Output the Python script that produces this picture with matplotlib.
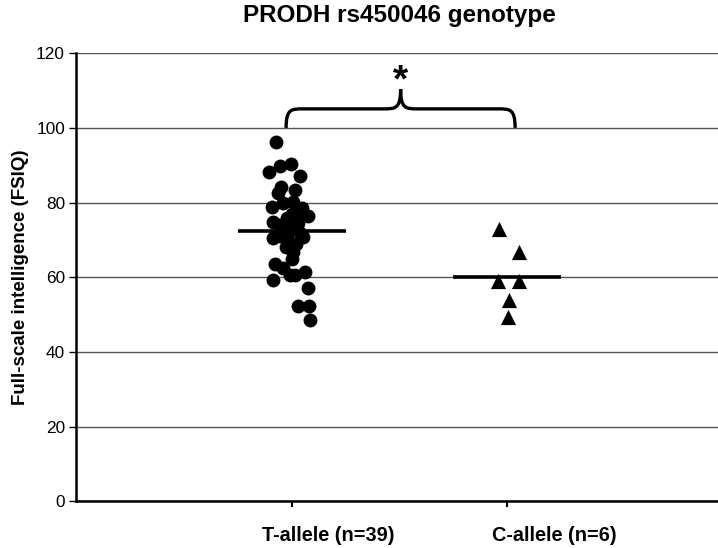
import numpy as np
import matplotlib
matplotlib.use("Agg")
import matplotlib.pyplot as plt
from matplotlib.path import Path
from matplotlib.patches import PathPatch
from matplotlib.transforms import ScaledTranslation

plt.rcParams['font.family'] = ['Liberation Sans', 'DejaVu Sans']

categories = ["T-allele (n=39)", "C-allele (n=6)"]
t_values = [96.2, 88.3, 89.9, 90.4, 87.1, 83.4, 84.3, 82.5,
            78.9, 79.8, 80.3, 78.5, 76.3, 74.9, 75.8, 74.5, 70.5, 70.9, 70.9, 66.9,
            63.6, 62.4, 60.6, 61.4, 59.3, 57.1, 52.3, 52.3, 48.6,
            77.0, 76.0, 74.0, 73.0, 72.0, 71.0, 69.0, 68.0, 65.0, 60.7]
t_jitter = [-0.074, -0.104, -0.054, -0.003, 0.038, 0.015, -0.051, -0.062,
            -0.093, -0.039, 0.007, 0.046, 0.077, -0.085, -0.023, 0.031, -0.085, -0.023, 0.054, 0.007,
            -0.077, -0.042, -0.008, 0.062, -0.085, 0.077, 0.031, 0.082, 0.085,
            0.001, 0.020, -0.054, -0.008, 0.038, -0.054, 0.020, -0.026, 0.001, 0.015]
c_values = [72.9, 66.9, 58.9, 58.9, 53.9, 49.3]
c_jitter = [-0.039, 0.054, -0.042, 0.055, 0.008, 0.004]
y_ticks = [0, 20, 40, 60, 80, 100, 120]

fig = plt.figure(figsize=(7.18, 5.48), dpi=100)
ax = fig.add_axes([0.106, 0.0849, 0.894, 0.818])

pos = [1, 2]
ax.scatter(np.array(t_jitter) + pos[0], t_values, s=100, marker='o', color='black', zorder=3, linewidths=0)
ax.scatter(np.array(c_jitter) + pos[1], c_values, s=120, marker='^', color='black', zorder=3, linewidths=0)

for p, vals in zip(pos, [t_values, c_values]):
    m = np.mean(vals)
    ax.plot([p - 0.25, p + 0.25], [m, m], color='black', lw=2.6, zorder=4, solid_capstyle='butt')

ax.set_xlim(0, 2.977)
ax.set_ylim(0, 120)
ax.set_yticks(y_ticks)
ax.set_xticks(pos)
ax.set_xticklabels(categories, fontsize=14.3, fontweight='bold')
ax.tick_params(axis='x', length=4, width=1.5, pad=14, direction='out')
ax.tick_params(axis='y', length=5, width=1.0, labelsize=12.4, direction='out', pad=3)
# labels sit to the right of their ticks in the reference
for lab, off in zip(ax.get_xticklabels(), [37, 47]):
    lab.set_transform(lab.get_transform() + ScaledTranslation(off / 100, 0, fig.dpi_scale_trans))
ax.yaxis.grid(True, color='#555555', lw=1.0)
ax.set_axisbelow(True)
for s in ['top', 'right']:
    ax.spines[s].set_visible(False)
ax.spines['left'].set_linewidth(1.8)
ax.spines['bottom'].set_linewidth(1.8)

ax.set_ylabel("Full-scale intelligence (FSIQ)", fontsize=13.5, fontweight='bold', labelpad=5)
fig.text(0.557, 0.972, "PRODH rs450046 genotype", ha='center', va='center', fontsize=17.5, fontweight='bold')

# brace annotation
x0, x1 = 0.974, 2.036
xm = (x0 + x1) / 2
yb, yh, yt = 100.0, 105.1, 110.4
dx = 0.08
verts = [(x0, yb), (x0, yh), (x0 + dx * 0.3, yh), (x0 + dx, yh),
         (xm - dx, yh),
         (xm - dx * 0.3, yh), (xm, yh), (xm, yt),
         (xm, yh), (xm + dx * 0.3, yh), (xm + dx, yh),
         (x1 - dx, yh),
         (x1 - dx * 0.3, yh), (x1, yh), (x1, yb)]
codes = [Path.MOVETO, Path.CURVE4, Path.CURVE4, Path.CURVE4,
         Path.LINETO,
         Path.CURVE4, Path.CURVE4, Path.CURVE4,
         Path.CURVE4, Path.CURVE4, Path.CURVE4,
         Path.LINETO,
         Path.CURVE4, Path.CURVE4, Path.CURVE4]
ax.add_patch(PathPatch(Path(verts, codes), fill=False, lw=2.4, color='black', zorder=5, clip_on=False))
ax.text(xm, 112.5, "*", ha='center', va='center', fontsize=28, fontweight='bold')

fig.savefig("out.png", dpi=100)
